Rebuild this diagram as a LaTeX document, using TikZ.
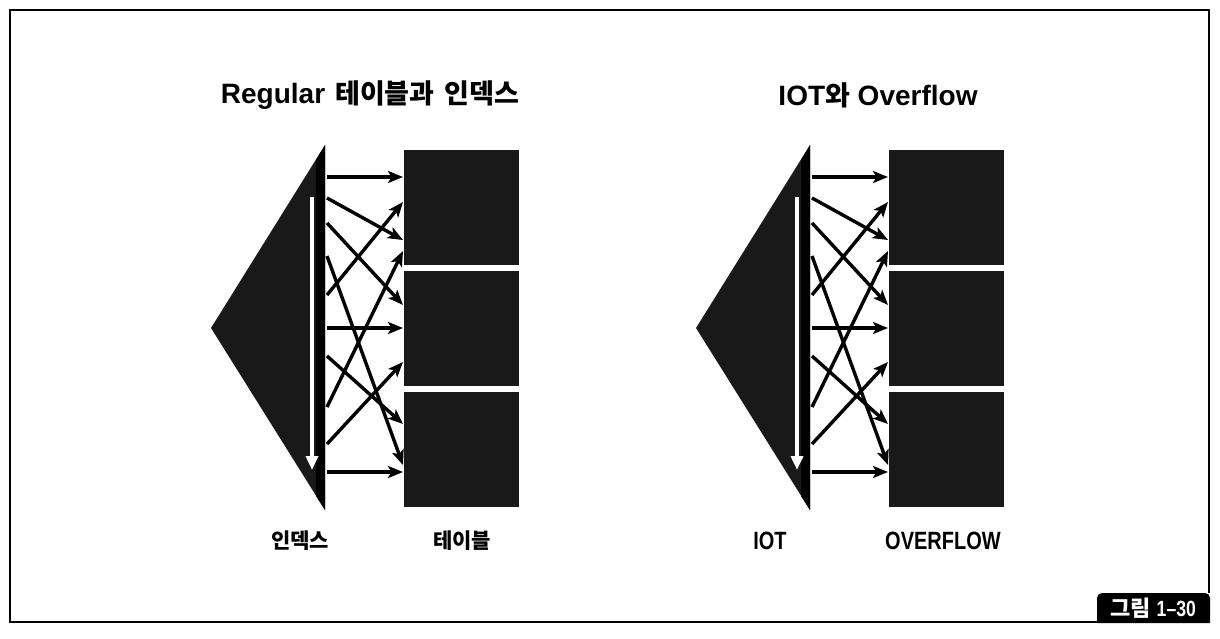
\documentclass[tikz,border=0pt]{standalone}
\usepackage{fontspec}
\setmainfont{Liberation Sans}
\newfontfamily\kr{Noto Sans CJK KR}
\newfontfamily\narrowlat[FakeStretch=0.8]{Liberation Sans}
\usetikzlibrary{arrows.meta}
\newcommand\drawdiagram{%
  \fill[fillc] (211,328) coordinate (tl) -- (325,145) coordinate (tt) -- (325,510) coordinate (tb) -- cycle;
  \fill[black] (316,160) -- (325,145) -- (325,510) -- (316,496) -- cycle;
  \node[tbox] (b1) at (404,150) {};
  \node[tbox] (b2) at (404,271) {};
  \node[tbox] (b3) at (404,392) {};
  \coordinate (w1) at (312,197);
  \coordinate (w2) at (312,470);
  \draw[whitearrow] (w1) -- (w2);
  \foreach \i/\s/\e in {1/177/177, 2/198/240, 3/223/305, 4/256/465, 5/295/202,
                        6/328/328, 7/356/424, 8/407/251, 9/444/362, 10/472/472} {
    \coordinate (s\i) at (327,\s);
    \coordinate (e\i) at (403,\e);
    \draw[link] (s\i) -- (e\i);
  }%
}
\begin{document}
\begin{tikzpicture}[x=1pt,y=-1pt,
  fillc/.style={fill=black!90},
  tbox/.style={fill=black!90, minimum width=115pt, minimum height=115pt, inner sep=0pt, anchor=north west},
  link/.style={line width=3.4pt, -{Stealth[length=15pt,width=12pt,inset=3.5pt]}},
  whitearrow/.style={white, line width=3.6pt, -{Triangle[length=14pt,width=12pt]}},
  title/.style={font=\bfseries\fontsize{28}{32}\selectfont},
  lab/.style={font=\bfseries\fontsize{21}{24}\selectfont}]
\useasboundingbox (0,0) rectangle (1220,638);
% frame
\draw[line width=1.6pt] (1097,622) coordinate (fa) -- (10,622) -- (10,10) -- (1209,10) -- (1209,593) coordinate (fb);
\fill[black] (1097,623) [rounded corners=5pt] -- (1097,593) -- (1210,593) [sharp corners] -- (1210,623) -- cycle;
\node[font=\bfseries\fontsize{22}{24}\selectfont, text=white] (fig) at (1153,608) {{\kr 그림} {\narrowlat 1–30}};
% left diagram
\begin{scope}[name prefix=l-]
  \drawdiagram
\end{scope}
% right diagram
\begin{scope}[name prefix=r-, xshift=485pt]
  \drawdiagram
\end{scope}
% titles
\node[title] (t1) at (370,95) {Regular\hspace{10pt}{\kr\fontsize{27}{32}\selectfont 테이블과\hspace{10pt}인덱스}};
\node[title] (t2) at (878,95) {IOT{\kr\fontsize{27}{32}\selectfont 와} Overflow};
% labels
\node[lab] (n1) at (300,541) {\kr 인덱스};
\node[lab] (n2) at (462,541) {\kr 테이블};
\node[lab] (n3) at (770,541) {\narrowlat\fontsize{25}{28}\selectfont IOT};
\node[lab] (n4) at (943,541) {\narrowlat\fontsize{25}{28}\selectfont OVERFLOW};
\end{tikzpicture}
\end{document}
